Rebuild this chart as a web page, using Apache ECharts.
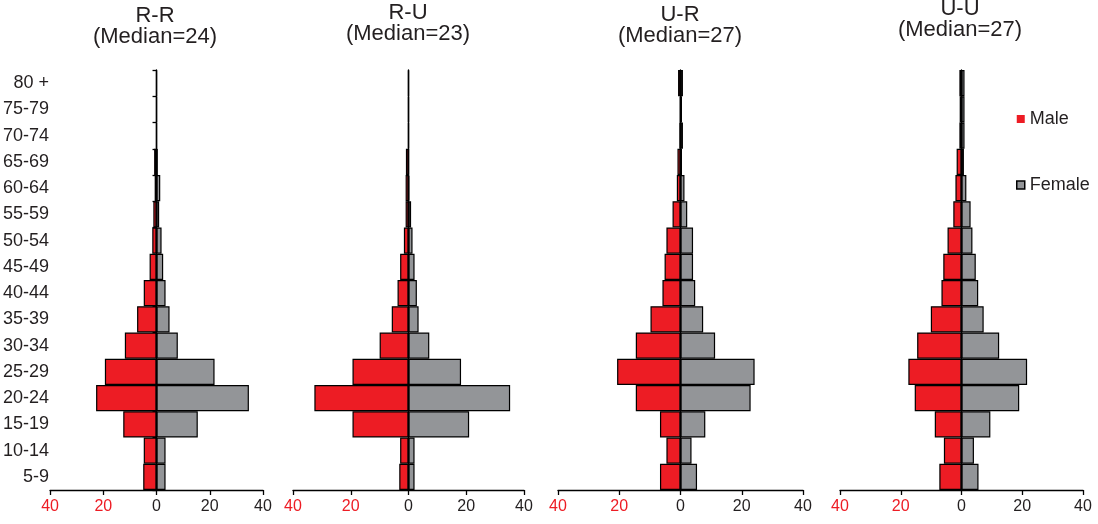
<!DOCTYPE html>
<html>
<head>
<meta charset="utf-8">
<script src="https://cdn.jsdelivr.net/npm/echarts@6/dist/echarts.min.js"></script>
<style>
html,body{margin:0;padding:0;background:#fff;}
#chart{width:1098px;height:524px;}
</style>
</head>
<body>
<div id="chart"></div>
<script>
const ageGroups = ['5-9','10-14','15-19','20-24','25-29','30-34','35-39','40-44','45-49','50-54','55-59','60-64','65-69','70-74','75-79','80 +'];
const panelNames = ['R-R','R-U','U-R','U-U'];
const medians = [24, 23, 27, 27];
const xTicks = [-40, -20, 0, 20, 40];

const maleRR   = [5.0, 4.8, 12.5, 22.7, 19.4, 11.9, 7.3, 4.8, 2.6, 1.6, 1.2, 0.7, 0.9, 0.1, 0.1, 0.1];
const femaleRR = [3.4, 3.4, 15.5, 34.7, 21.8, 8.0, 4.9, 3.4, 2.5, 1.9, 1.0, 1.4, 0.5, 0.1, 0.1, 0.1];
const maleRU   = [3.2, 2.9, 19.4, 32.6, 19.4, 10.0, 5.8, 3.8, 2.9, 1.6, 1.0, 1.0, 0.9, 0.1, 0.1, 0.1];
const femaleRU = [2.1, 2.1, 21.0, 35.2, 18.2, 7.2, 3.5, 2.9, 2.1, 1.4, 0.9, 0.3, 0.1, 0.1, 0.1, 0.1];
const maleUR   = [6.7, 4.6, 6.7, 14.6, 20.7, 14.6, 9.8, 5.9, 5.2, 4.6, 2.6, 1.2, 1.0, 0.4, 0.2, 0.8];
const femaleUR = [5.4, 3.6, 8.1, 22.9, 24.2, 11.3, 7.4, 4.8, 4.1, 4.1, 2.2, 1.3, 0.5, 0.8, 0.5, 0.8];
const maleUU   = [7.3, 5.8, 8.8, 15.4, 17.5, 14.6, 10.1, 6.6, 6.0, 4.6, 2.7, 2.0, 1.6, 0.7, 0.6, 0.7];
const femaleUU = [5.6, 4.1, 9.5, 19.0, 21.6, 12.4, 7.3, 5.5, 4.7, 3.6, 3.0, 1.6, 0.8, 1.0, 1.0, 1.0];

const maleData = [maleRR, maleRU, maleUR, maleUU];
const femaleData = [femaleRR, femaleRU, femaleUR, femaleUU];

const RED = '#ED1C24';
const GREY = '#939598';
const DARK = '#231F20';
const FONT = '"Liberation Sans", Arial, sans-serif';

const grids = [
  {left: 50,  width: 213},
  {left: 293, width: 231},
  {left: 558, width: 245},
  {left: 840, width: 243}
];
const titlePos = [[155, 16], [408, 13], [680, 15], [960, 9]];

const option = {
  backgroundColor: '#fff',
  animation: false,
  grid: grids.map(g => ({left: g.left, width: g.width, top: 70, height: 420, containLabel: false})),
  xAxis: grids.map((g, i) => ({
    type: 'value', gridIndex: i, min: -40, max: 40, interval: 20,
    axisLine: {show: true, onZero: false, lineStyle: {color: '#000', width: 1.3}},
    axisTick: {show: true, length: 5, lineStyle: {color: '#000', width: 1.3}},
    splitLine: {show: false},
    axisLabel: {
      margin: 9, fontSize: 16, fontFamily: FONT,
      formatter: v => String(Math.abs(v)),
      color: v => (Number(v) < 0 ? RED : DARK)
    }
  })),
  yAxis: [],
  series: [],
  legend: {
    orient: 'vertical', left: 1011, top: 105, itemGap: 48,
    itemWidth: 8, itemHeight: 8, icon: 'rect', itemTextGap: 4,
    textStyle: {fontSize: 18, fontFamily: FONT, color: DARK},
    data: [
      {name: 'Male', itemStyle: {color: RED, borderWidth: 0}},
      {name: 'Female', itemStyle: {color: GREY, borderColor: '#000', borderWidth: 1.5}}
    ]
  },
  graphic: []
};

grids.forEach((g, i) => {
  option.yAxis.push({
    type: 'category', gridIndex: i, data: ageGroups, position: 'left',
    axisLine: {show: false, onZero: false},
    axisTick: {show: false},
    axisLabel: {show: i === 0, margin: 1, fontSize: 18, fontFamily: FONT, color: DARK}
  });
  option.yAxis.push({
    type: 'category', gridIndex: i, data: ageGroups, position: 'left',
    boundaryGap: true,
    axisLine: {show: true, onZero: true, lineStyle: {color: '#000', width: 1.3}},
    axisTick: {show: i === 0, length: 4, lineStyle: {color: '#000', width: 1.3}},
    axisLabel: {show: false}
  });
  option.series.push({
    name: 'Male', type: 'bar', xAxisIndex: i, yAxisIndex: 2 * i, stack: 'p' + i,
    barCategoryGap: '0%',
    itemStyle: {color: RED, borderColor: '#000', borderWidth: 1.2},
    data: maleData[i].map(v => -v)
  });
  option.series.push({
    name: 'Female', type: 'bar', xAxisIndex: i, yAxisIndex: 2 * i, stack: 'p' + i,
    barCategoryGap: '0%',
    itemStyle: {color: GREY, borderColor: '#000', borderWidth: 1.2},
    data: femaleData[i]
  });
  option.graphic.push({
    type: 'text', x: titlePos[i][0], y: titlePos[i][1],
    style: {text: panelNames[i], font: '22px ' + FONT, fill: DARK, align: 'center', verticalAlign: 'middle'}
  });
  option.graphic.push({
    type: 'text', x: titlePos[i][0], y: titlePos[i][1] + 21,
    style: {text: '(Median=' + medians[i] + ')', font: '22px ' + FONT, fill: DARK, align: 'center', verticalAlign: 'middle'}
  });
});

const chart = echarts.init(document.getElementById('chart'), null, {renderer: 'canvas'});
chart.setOption(option);
</script>
</body>
</html>
